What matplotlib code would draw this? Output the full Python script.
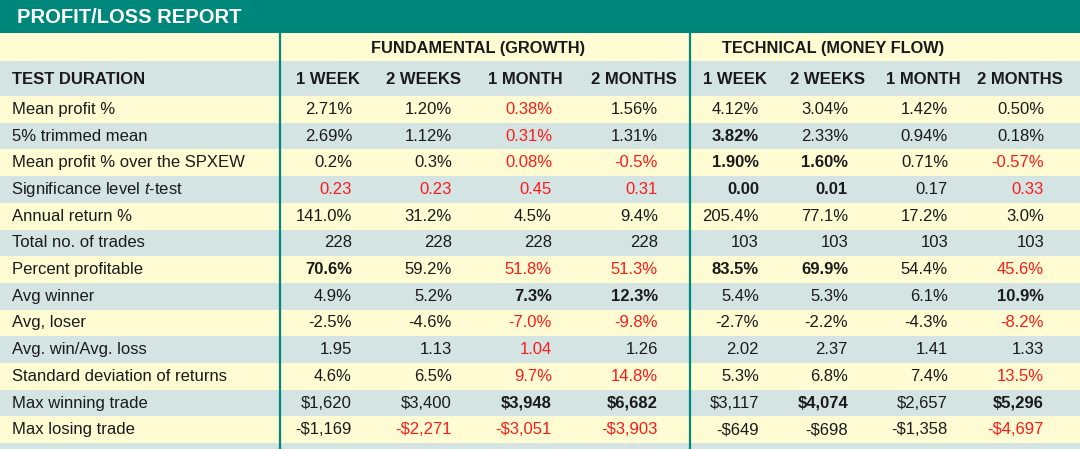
import matplotlib.pyplot as plt
from matplotlib.patches import Rectangle

plt.rcParams['font.family'] = ['Liberation Sans', 'DejaVu Sans']
plt.rcParams['mathtext.fontset'] = 'custom'
plt.rcParams['mathtext.rm'] = 'Liberation Sans'
plt.rcParams['mathtext.it'] = 'Liberation Sans:italic'

# data
title = "PROFIT/LOSS REPORT"
groups = ["FUNDAMENTAL (GROWTH)", "TECHNICAL (MONEY FLOW)"]
durations = ["1 WEEK", "2 WEEKS", "1 MONTH", "2 MONTHS"]
row_labels = [
    "Mean profit %",
    "5% trimmed mean",
    "Mean profit % over the SPXEW",
    r"Significance level $\mathit{t}$-test",
    "Annual return %",
    "Total no. of trades",
    "Percent profitable",
    "Avg winner",
    "Avg, loser",
    "Avg. win/Avg. loss",
    "Standard deviation of returns",
    "Max winning trade",
    "Max losing trade",
]
fundamental = [
    ["2.71%", "1.20%", "0.38%", "1.56%"],
    ["2.69%", "1.12%", "0.31%", "1.31%"],
    ["0.2%", "0.3%", "0.08%", "-0.5%"],
    ["0.23", "0.23", "0.45", "0.31"],
    ["141.0%", "31.2%", "4.5%", "9.4%"],
    ["228", "228", "228", "228"],
    ["70.6%", "59.2%", "51.8%", "51.3%"],
    ["4.9%", "5.2%", "7.3%", "12.3%"],
    ["-2.5%", "-4.6%", "-7.0%", "-9.8%"],
    ["1.95", "1.13", "1.04", "1.26"],
    ["4.6%", "6.5%", "9.7%", "14.8%"],
    ["$1,620", "$3,400", "$3,948", "$6,682"],
    ["-$1,169", "-$2,271", "-$3,051", "-$3,903"],
]
technical = [
    ["4.12%", "3.04%", "1.42%", "0.50%"],
    ["3.82%", "2.33%", "0.94%", "0.18%"],
    ["1.90%", "1.60%", "0.71%", "-0.57%"],
    ["0.00", "0.01", "0.17", "0.33"],
    ["205.4%", "77.1%", "17.2%", "3.0%"],
    ["103", "103", "103", "103"],
    ["83.5%", "69.9%", "54.4%", "45.6%"],
    ["5.4%", "5.3%", "6.1%", "10.9%"],
    ["-2.7%", "-2.2%", "-4.3%", "-8.2%"],
    ["2.02", "2.37", "1.41", "1.33"],
    ["5.3%", "6.8%", "7.4%", "13.5%"],
    ["$3,117", "$4,074", "$2,657", "$5,296"],
    ["-$649", "-$698", "-$1,358", "-$4,697"],
]
# cell styles, 8 chars per row: r = red, b = bold, . = plain
cell_style = [
    "..r.....",
    "..r.b...",
    "..rrbb.r",
    "rrrrbb.r",
    "........",
    "........",
    "b.rrbb.r",
    "..bb...b",
    "..rr...r",
    "..r.....",
    "..rr...r",
    "..bb.b.b",
    ".rrr...r",
]

# colours
teal = '#00877b'
yellow = '#fffcd4'
blue = '#d4e4e3'
red = '#ff1a1a'
ink = '#1a1a1a'

fig = plt.figure(figsize=(10.8, 4.49), dpi=100)
ax = fig.add_axes([0, 0, 1, 1])
ax.set_xlim(0, 1080)
ax.set_ylim(449, 0)
ax.axis('off')

# layout (pixels)
title_h = 33
group_top, head_top, body_top = 33, 61, 96
row_h = 26.7
col_right = [352, 452, 552, 658, 759, 848, 948, 1044]
head_cx = [328, 424, 525, 634, 735, 827, 923, 1020]
group_cx = [478, 833]
vlines = [279.5, 689.5]

# bands
ax.add_patch(Rectangle((0, 0), 1080, title_h, color=teal, lw=0))
ax.add_patch(Rectangle((0, group_top), 1080, head_top - group_top, color=yellow, lw=0))
ax.add_patch(Rectangle((0, head_top), 1080, body_top - head_top, color=blue, lw=0))
n = len(row_labels)
for i in range(n + 1):
    top = body_top + i * row_h
    ax.add_patch(Rectangle((0, top), 1080, row_h, color=yellow if i % 2 == 0 else blue, lw=0))

for x in vlines:
    ax.plot([x, x], [group_top, 449], color=teal, lw=1.6, solid_capstyle='butt')

ax.text(17, title_h / 2 + 1, title, color='white', fontsize=14.5, fontweight='bold',
        va='center', ha='left')

for g, cx in zip(groups, group_cx):
    ax.text(cx, (group_top + head_top) / 2 + 1, g, color=ink, fontsize=11.8,
            fontweight='bold', va='center', ha='center')

ax.text(12, (head_top + body_top) / 2 + 1, "TEST DURATION", color=ink, fontsize=12,
        fontweight='bold', va='center', ha='left')
for j, cx in enumerate(head_cx):
    ax.text(cx, (head_top + body_top) / 2 + 1, durations[j % 4], color=ink, fontsize=12,
            fontweight='bold', va='center', ha='center')

for i in range(n):
    cy = body_top + i * row_h + row_h / 2
    lx = 11 if '$' in row_labels[i] else 12
    ax.text(lx, cy, row_labels[i], color=ink, fontsize=12, va='center', ha='left')
    vals = fundamental[i] + technical[i]
    for j, v in enumerate(vals):
        st = cell_style[i][j]
        ax.text(col_right[j], cy, v, fontsize=12, va='center', ha='right',
                color=red if st == 'r' else ink,
                fontweight='bold' if st == 'b' else 'normal')

fig.savefig('out.png', dpi=100)
